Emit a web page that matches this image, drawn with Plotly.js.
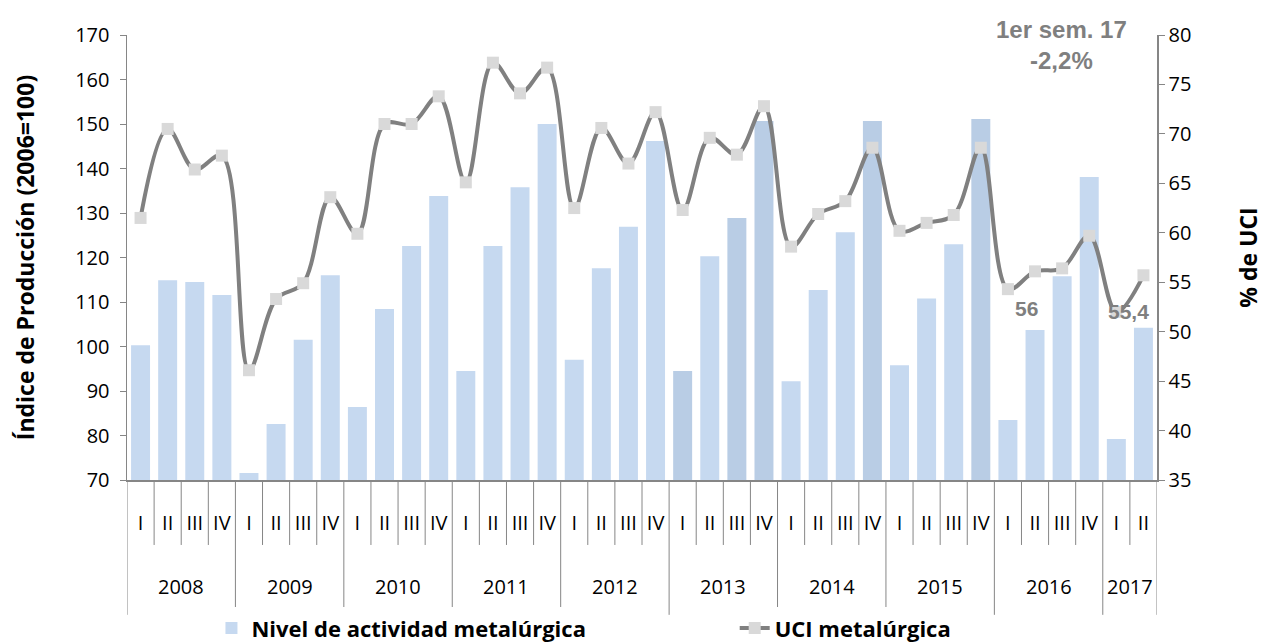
<!DOCTYPE html>
<html><head><meta charset="utf-8">
<script src="https://cdn.plot.ly/plotly-3.0.1.min.js"></script>
<style>html,body{margin:0;padding:0;background:#fff}#chart{width:1264px;height:643px}</style>
</head><body><div id="chart"></div>
<script>
// ---- data ----
const years = ['2008','2009','2010','2011','2012','2013','2014','2015','2016','2017'];
const quartersPerYear = [4,4,4,4,4,4,4,4,4,2];
const quarterNames = ['I','II','III','IV'];
const nivelActividad = [100.3,114.9,114.5,111.6, 71.6,82.6,101.5,116.0, 86.4,108.4,122.6,133.8,
  94.5,122.6,135.8,150.0, 97.0,117.6,126.9,146.2, 94.5,120.3,128.9,150.7,
  92.2,112.7,125.7,150.7, 95.8,110.8,123.0,151.1, 83.5,103.7,115.8,138.1, 79.2,104.2];
const uciMetalurgica = [61.5,70.5,66.4,67.8, 46.1,53.3,54.9,63.6, 59.9,71.0,71.0,73.8,
  65.1,77.2,74.1,76.7, 62.5,70.6,67.0,72.2, 62.3,69.6,67.9,72.8,
  58.6,61.9,63.2,68.6, 60.2,61.0,61.8,68.6, 54.3,56.1,56.4,59.7, 52.0,55.7];
const pointLabels = ['56','55,4'];
const headline = ['1er sem. 17','-2,2%'];

// ---- build categories ----
const qLabels = [], yearStart = [];
let n = 0;
years.forEach((y,k)=>{ yearStart.push(n); for(let q=0;q<quartersPerYear[k];q++){ qLabels.push(quarterNames[q]); n++; } });
const xIdx = qLabels.map((_,i)=>i);

// styles
const lightBar = '#c6d9f0', darkBar = '#b9cde5';
const darkerIdx = [20,22,23,27,31];
const barColors = xIdx.map(i => darkerIdx.includes(i) ? darkBar : lightBar);
const axisGray = '#868686';
const tickFont = {family:'Open Sans, sans-serif', size:20, color:'#000'};
const legendFont = {family:'Open Sans, sans-serif', size:22, color:'#000', weight:'bold'};
const titleFont = {family:'Open Sans, sans-serif', size:23, color:'#000', weight:'bold'};

// separators
const shapes = [];
for (let i=0;i<=n;i++){
  const isYear = yearStart.includes(i) || i===n;
  shapes.push({type:'line', xref:'x', yref:'paper', x0:i-0.5, x1:i-0.5, y0:0, y1: isYear ? -0.303 : -0.146,
    line:{color:axisGray, width:1}});
}
const annotations = years.map((y,k)=>({
  x: yearStart[k] + (quartersPerYear[k]-1)/2, xref:'x', y:-0.24, yref:'paper',
  text:y, showarrow:false, font:tickFont, xanchor:'center', yanchor:'middle'
}));
const lblFont = {family:'Liberation Sans, Arial, sans-serif', size:21, color:'#7f7f7f', weight:'bold'};
annotations.push({x:32, y:uciMetalurgica[32], xref:'x', yref:'y2', text:pointLabels[0], showarrow:false,
  xshift:19, yshift:-19, font:lblFont});
annotations.push({x:36, y:uciMetalurgica[36], xref:'x', yref:'y2', text:pointLabels[1], showarrow:false,
  xshift:12, yshift:0, font:lblFont});
annotations.push({x:0.907, xref:'paper', xanchor:'center', y:0.977, yref:'paper', yanchor:'middle', text:headline.join('<br>'),
  showarrow:false, align:'center', font:{family:'Liberation Sans, Arial, sans-serif', size:24, color:'#7f7f7f', weight:'bold'}});

const traces = [
  {type:'bar', x:xIdx, y:nivelActividad, name:'Nivel de actividad metalúrgica',
   marker:{color:barColors}, yaxis:'y', hoverinfo:'skip', legend:'legend'},
  {type:'scatter', mode:'lines+markers', x:xIdx, y:uciMetalurgica, name:'UCI metalúrgica', yaxis:'y2',
   line:{color:'#808080', width:4, shape:'spline', smoothing:1},
   marker:{symbol:'square', size:12, color:'#d9d9d9'}, hoverinfo:'skip', legend:'legend2'}
];

const layout = {
  width:1264, height:643,
  margin:{l:127, r:107, t:35, b:163, autoexpand:false},
  paper_bgcolor:'#fff', plot_bgcolor:'#fff',
  bargap:0.3,
  showlegend:true,
  legend:{orientation:'h', x:0.082, xanchor:'left', y:-0.333, yanchor:'middle', font:legendFont},
  legend2:{orientation:'h', x:0.59, xanchor:'left', y:-0.333, yanchor:'middle', font:legendFont},
  xaxis:{type:'linear', range:[-0.5, n-0.5], tickvals:xIdx, ticktext:qLabels,
    ticks:'outside', ticklen:24, tickcolor:'rgba(0,0,0,0)',
    showline:true, linecolor:axisGray, linewidth:1.5, showgrid:false, zeroline:false,
    tickfont:tickFont, fixedrange:true},
  yaxis:{range:[70,170], dtick:10, ticks:'outside', ticklen:6, tickcolor:axisGray, ticklabelstandoff:6,
    showline:true, linecolor:axisGray, linewidth:1.5, showgrid:false, zeroline:false,
    tickfont:tickFont, title:{text:'Índice de Producción (2006=100)', font:titleFont, standoff:34}},
  yaxis2:{range:[35,80], dtick:5, overlaying:'y', side:'right', ticks:'outside', ticklen:6, tickcolor:axisGray,
    showline:true, linecolor:axisGray, linewidth:1.5, showgrid:false, zeroline:false,
    tickfont:tickFont, title:{text:'% de UCI', font:titleFont, standoff:60}},
  shapes:shapes, annotations:annotations
};
Plotly.newPlot('chart', traces, layout, {displayModeBar:false, staticPlot:true});
</script></body></html>
